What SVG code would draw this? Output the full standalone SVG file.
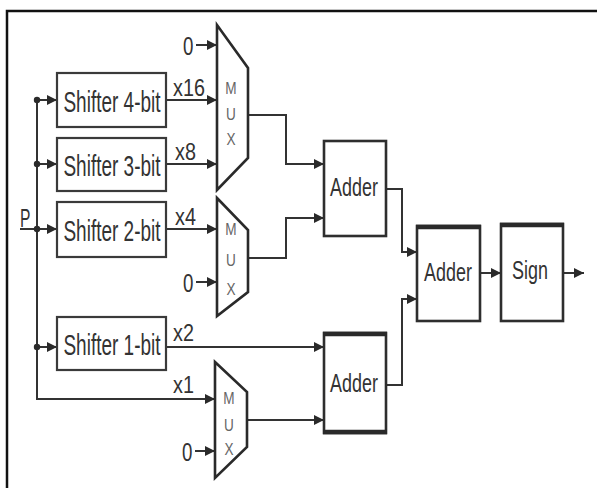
<svg xmlns="http://www.w3.org/2000/svg" width="597" height="488" viewBox="0 0 597 488">
<style>
.frame{fill:none;stroke:#111;stroke-width:2.5}
.box{fill:#fff;stroke:#3a3a3a;stroke-width:2.2}
.blk{fill:#fff;stroke:#2e2e2e;stroke-width:2.6}
.thick{stroke:#2a2a2a;stroke-width:4.5;fill:none}
.mux{fill:#fff;stroke:#2a2a2a;stroke-width:2.6;stroke-linejoin:miter}
.wire{fill:none;stroke:#333;stroke-width:2}
.wa{fill:none;stroke:#333;stroke-width:2;marker-end:url(#ah)}
.lbl{font-family:"Liberation Sans",Arial,sans-serif;fill:#333}
.big{font-size:29px;text-anchor:middle}
.ad{font-size:26px;text-anchor:middle}
.sm{font-size:23px}
.z{font-size:26px}
.mx{font-family:"Liberation Sans",Arial,sans-serif;font-size:17px;fill:#666;text-anchor:middle}
</style>
<defs>
<marker id="ah" markerUnits="userSpaceOnUse" markerWidth="11" markerHeight="10" refX="10" refY="5" orient="auto">
<path d="M0,0 L10,5 L0,10 z" fill="#2a2a2a"/>
</marker>
</defs>
<rect x="0" y="0" width="597" height="488" fill="#fff"/>
<rect class="frame" x="7" y="11" width="600" height="500"/>

<g id="connectors">
<line class="wire" x1="20" y1="229" x2="37" y2="229"/>
<polyline class="wa" points="37,100 37,399 215,399"/>
<line class="wa" x1="37" y1="100" x2="57" y2="100"/>
<line class="wa" x1="37" y1="164" x2="57" y2="164"/>
<line class="wa" x1="37" y1="229" x2="57" y2="229"/>
<line class="wa" x1="37" y1="347" x2="57" y2="347"/>
<circle cx="37" cy="100" r="3.2" fill="#2a2a2a"/>
<circle cx="37" cy="164" r="3.2" fill="#2a2a2a"/>
<circle cx="37" cy="229" r="3.2" fill="#2a2a2a"/>
<circle cx="37" cy="347" r="3.2" fill="#2a2a2a"/>
<line class="wa" x1="166" y1="100" x2="217" y2="100"/>
<line class="wa" x1="166" y1="164" x2="217" y2="164"/>
<line class="wa" x1="166" y1="229" x2="217" y2="229"/>
<line class="wa" x1="196" y1="45" x2="217" y2="45"/>
<line class="wa" x1="196" y1="282" x2="217" y2="282"/>
<line class="wa" x1="195" y1="451" x2="215" y2="451"/>
<line class="wa" x1="166" y1="347" x2="324" y2="347"/>
<line class="wa" x1="247" y1="420" x2="324" y2="420"/>
<polyline class="wa" points="248,115 286,115 286,164 324,164"/>
<polyline class="wa" points="248,258 286,258 286,218 324,218"/>
<polyline class="wa" points="386,189 402,189 402,252 417,252"/>
<polyline class="wa" points="386,385 402,385 402,299 417,299"/>
<line class="wa" x1="480" y1="273" x2="501" y2="273"/>
<line class="wa" x1="563" y1="273" x2="584" y2="273"/>
</g>

<g id="labels">
<text class="lbl z" transform="translate(20,227) scale(0.6,1)">P</text>
<text class="lbl sm" transform="translate(173,96) scale(0.86,1)">x16</text>
<text class="lbl sm" transform="translate(175,160) scale(0.86,1)">x8</text>
<text class="lbl sm" transform="translate(175,225) scale(0.86,1)">x4</text>
<text class="lbl sm" transform="translate(173,341) scale(0.86,1)">x2</text>
<text class="lbl sm" transform="translate(173,393) scale(0.86,1)">x1</text>
<text class="lbl z" transform="translate(183,55) scale(0.72,1)">0</text>
<text class="lbl z" transform="translate(183,292) scale(0.72,1)">0</text>
<text class="lbl z" transform="translate(182,461) scale(0.72,1)">0</text>
</g>

<g id="shifter4"><rect class="box" x="57" y="73" width="109" height="54"/><text class="lbl big" transform="translate(112,112) scale(0.655,1)">Shifter 4-bit</text></g>
<g id="shifter3"><rect class="box" x="57" y="138" width="109" height="53"/><text class="lbl big" transform="translate(112,176) scale(0.655,1)">Shifter 3-bit</text></g>
<g id="shifter2"><rect class="box" x="57" y="202" width="109" height="55"/><text class="lbl big" transform="translate(112,241) scale(0.655,1)">Shifter 2-bit</text></g>
<g id="shifter1"><rect class="box" x="57" y="317" width="109" height="53"/><text class="lbl big" transform="translate(112,355) scale(0.655,1)">Shifter 1-bit</text></g>

<g id="mux1"><polygon class="mux" points="217,25 248,68 248,158 217,190"/>
<text class="mx" transform="translate(231,94) scale(0.8,1)">M</text><text class="mx" transform="translate(231,120) scale(0.8,1)">U</text><text class="mx" transform="translate(231,145) scale(0.8,1)">X</text></g>
<g id="mux2"><polygon class="mux" points="217,198 248,230 248,292 217,316"/>
<text class="mx" transform="translate(231,235) scale(0.8,1)">M</text><text class="mx" transform="translate(231,266) scale(0.8,1)">U</text><text class="mx" transform="translate(231,295) scale(0.8,1)">X</text></g>
<g id="mux3"><polygon class="mux" points="215,362 247,392 247,447 215,478"/>
<text class="mx" transform="translate(229,404) scale(0.8,1)">M</text><text class="mx" transform="translate(229,431) scale(0.8,1)">U</text><text class="mx" transform="translate(229,455) scale(0.8,1)">X</text></g>

<g id="adder1"><rect class="blk" x="324" y="141" width="62" height="95"/><text class="lbl ad" transform="translate(354,196) scale(0.69,1)">Adder</text></g>
<g id="adder3"><rect class="blk" x="324" y="333" width="62" height="100"/><line class="thick" x1="323" y1="334" x2="387" y2="334"/><line class="thick" x1="323" y1="432" x2="387" y2="432"/><text class="lbl ad" transform="translate(354,392) scale(0.69,1)">Adder</text></g>
<g id="adder2"><rect class="blk" x="417" y="226" width="63" height="95"/><line class="thick" x1="416" y1="227" x2="481" y2="227"/><text class="lbl ad" transform="translate(448,281) scale(0.69,1)">Adder</text></g>
<g id="sign"><rect class="blk" x="501" y="224" width="62" height="97"/><line class="thick" x1="500" y1="225" x2="564" y2="225"/><text class="lbl ad" transform="translate(530,279) scale(0.69,1)">Sign</text></g>
</svg>
